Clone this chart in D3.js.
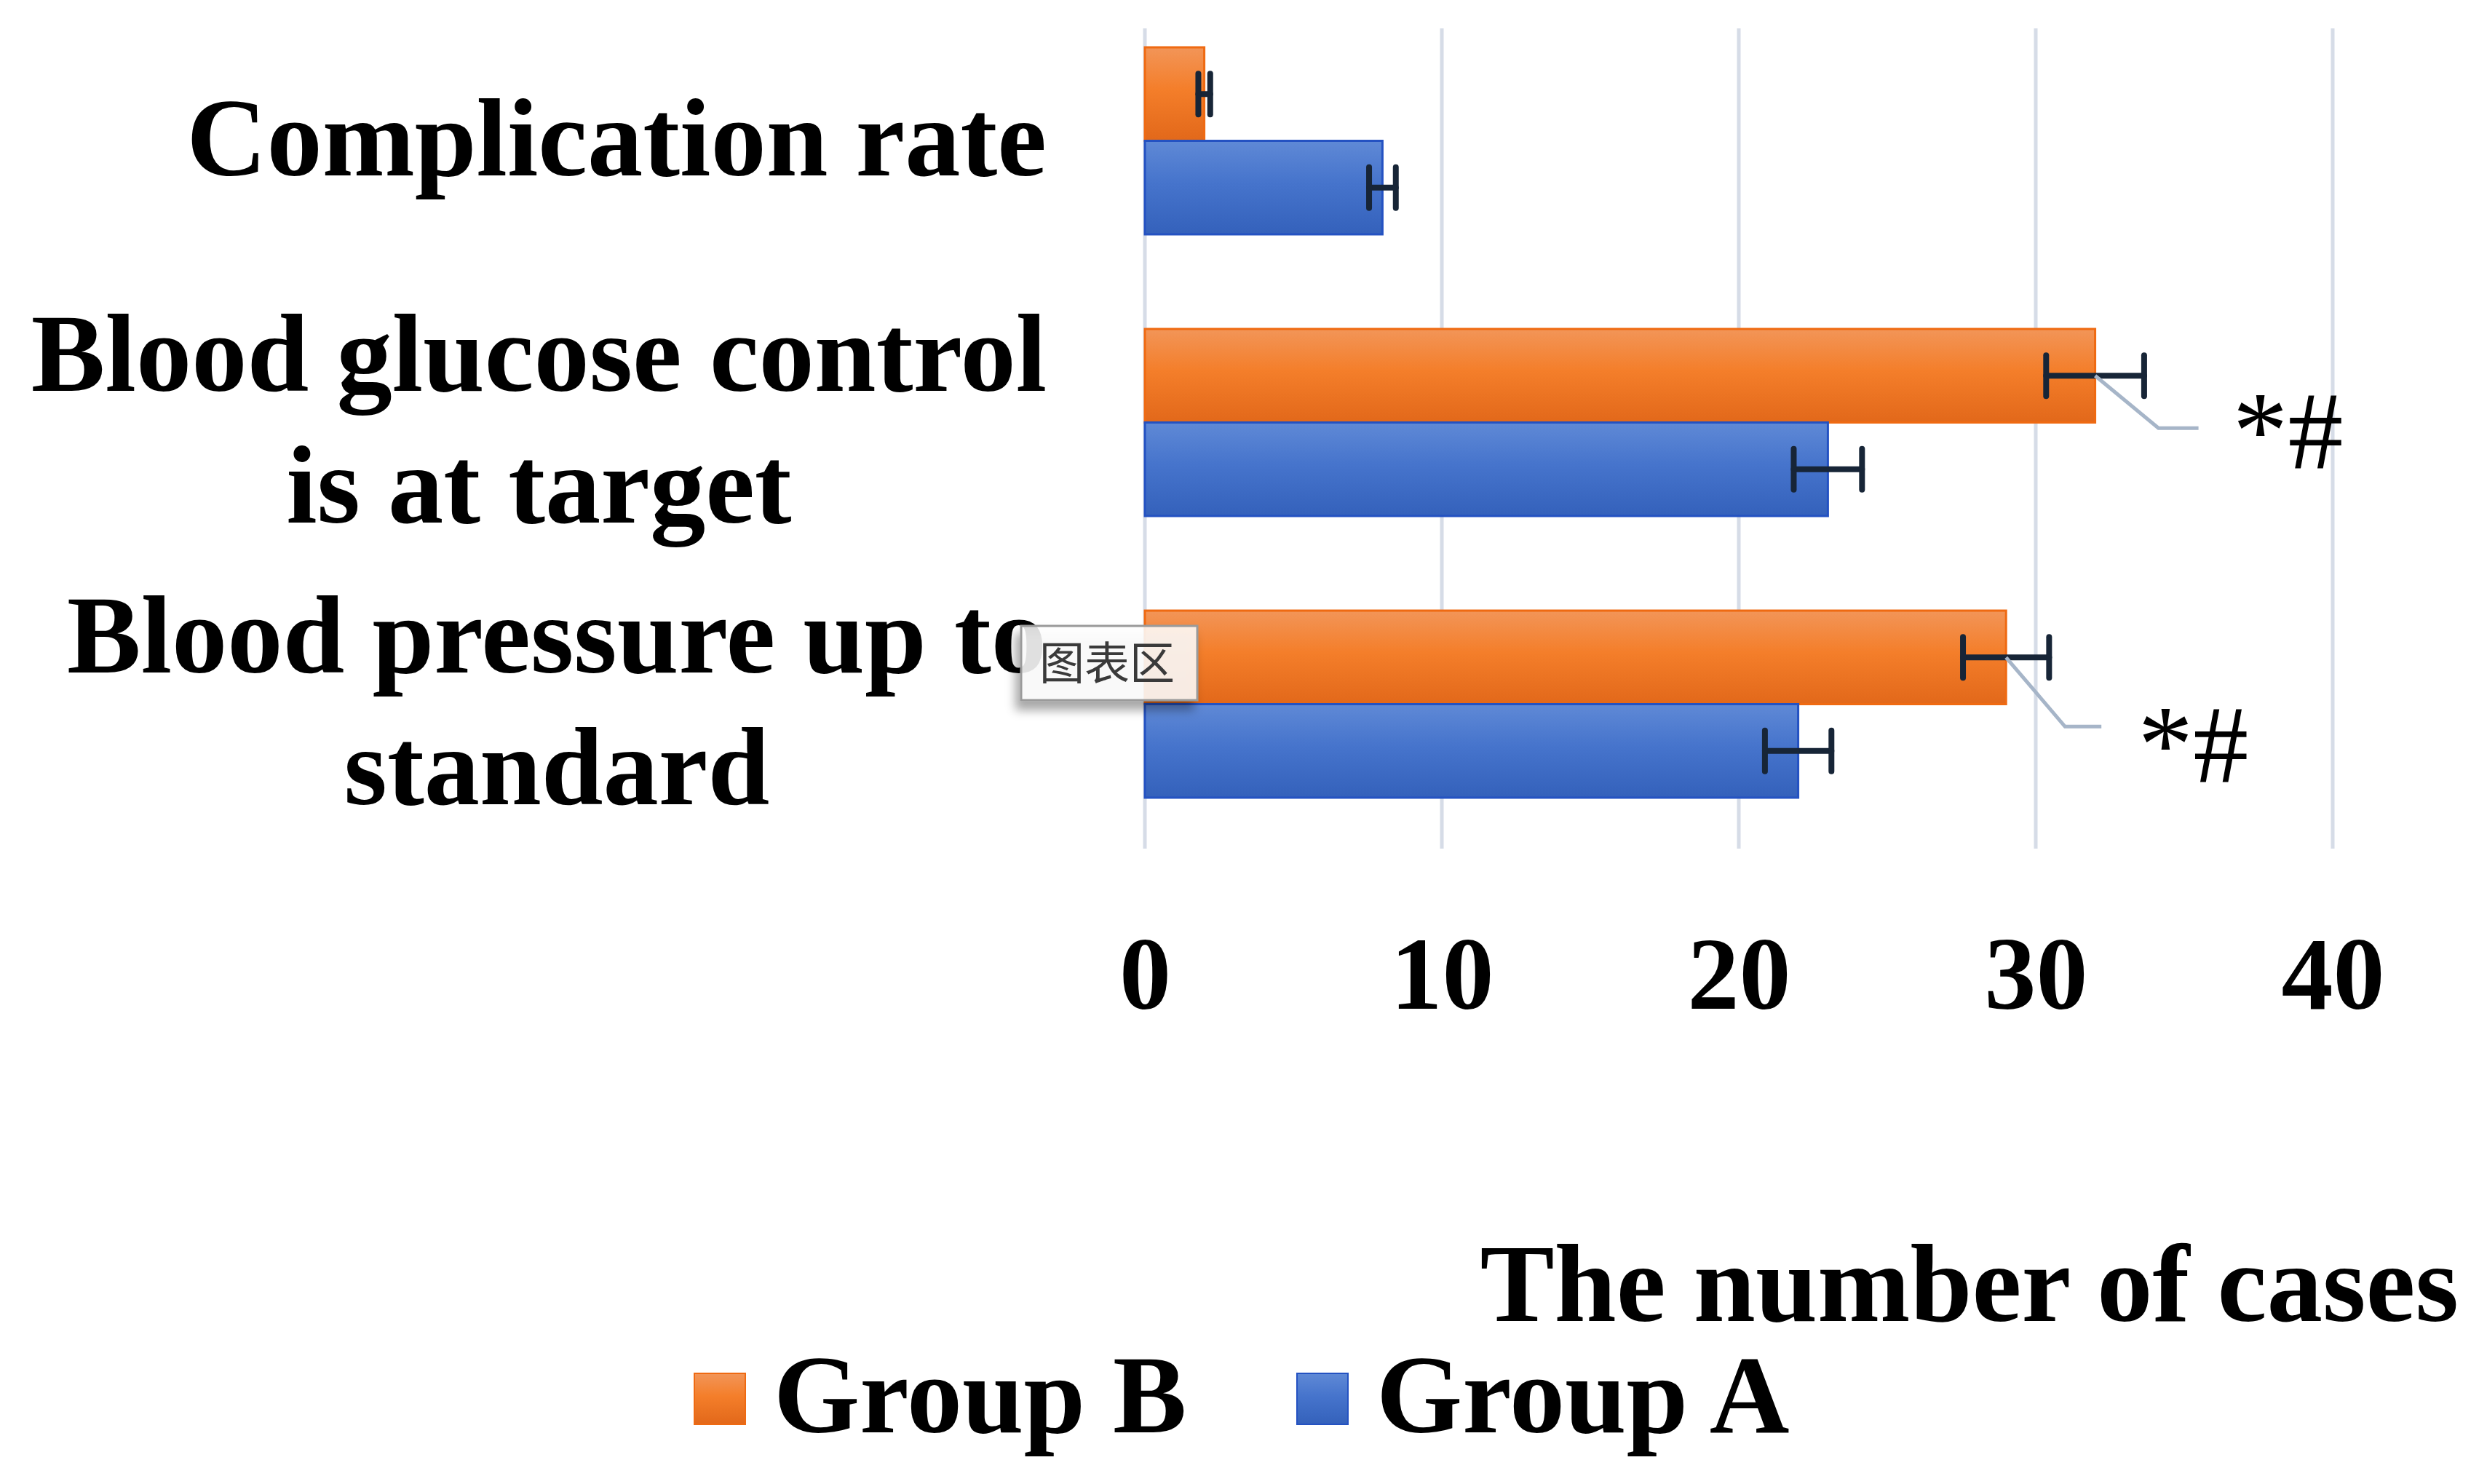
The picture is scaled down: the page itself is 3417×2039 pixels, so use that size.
<!DOCTYPE html>
<html>
<head>
<meta charset="utf-8">
<script src="https://cdn.jsdelivr.net/npm/d3@7"></script>
<style>
  html, body { margin: 0; padding: 0; background: #ffffff; }
  svg { display: block; }
</style>
</head>
<body>
<svg id="chart" width="3417" height="2039"></svg>
<script>
// ---------------- data ----------------
const categories = [
  ["Complication rate"],
  ["Blood glucose control", "is at target"],
  ["Blood pressure up to", "standard"]
];
const categoryKeys = ["Complication rate", "Blood glucose control is at target", "Blood pressure up to standard"];
const seriesNames = ["Group B", "Group A"];
const groupB = [2, 32, 29];
const groupA = [8, 23, 22];
const errB = [0.2, 1.65, 1.45];
const errA = [0.45, 1.15, 1.12];
const xTicks = [0, 10, 20, 30, 40];
const xTitle = "The number of cases";
const annotations = ["", "*#", "*#"];   // marker next to Group B bars
const tooltipText = "图表区";

// ---------------- layout ----------------
const W = 3417, H = 2039;
const svg = d3.select("#chart");
const serif = "'Liberation Serif', 'Times New Roman', serif";

const x = d3.scaleLinear().domain([0, 40]).range([1573, 3205]);
const y = d3.scaleBand().domain(categoryKeys).range([0, 1161]).padding(0);
const gridTop = 39, gridBottom = 1166;
const barH = y.bandwidth() * 0.332;
const barOff = (y.bandwidth() - 2 * barH) / 2;

const colors = {
  "Group B": { top: "#f29558", mid: "#f47e2a", bot: "#e2681a", stroke: "#ef6a12" },
  "Group A": { top: "#5f89d6", mid: "#4674cc", bot: "#3461bb", stroke: "#2452c2" }
};

const defs = svg.append("defs");
seriesNames.forEach((s, i) => {
  const g = defs.append("linearGradient").attr("id", "grad" + i)
    .attr("x1", 0).attr("y1", 0).attr("x2", 0).attr("y2", 1);
  g.append("stop").attr("offset", "0%").attr("stop-color", colors[s].top);
  g.append("stop").attr("offset", "45%").attr("stop-color", colors[s].mid);
  g.append("stop").attr("offset", "100%").attr("stop-color", colors[s].bot);
});
const shadow = defs.append("filter").attr("id", "shadow")
  .attr("x", "-20%").attr("y", "-20%").attr("width", "140%").attr("height", "160%");
shadow.append("feDropShadow").attr("dx", -6).attr("dy", 12).attr("stdDeviation", 7)
  .attr("flood-color", "#000").attr("flood-opacity", 0.4);

// ---------------- gridlines ----------------
svg.append("g").selectAll("line").data(xTicks).join("line")
  .attr("x1", d => x(d)).attr("x2", d => x(d))
  .attr("y1", gridTop).attr("y2", gridBottom)
  .attr("stroke", "#d6dce7").attr("stroke-width", 5);

// ---------------- bars ----------------
const series = [
  { name: "Group B", values: groupB, err: errB, idx: 0 },
  { name: "Group A", values: groupA, err: errA, idx: 1 }
];
const barsG = svg.append("g");
series.forEach(s => {
  barsG.append("g").selectAll("rect").data(categoryKeys).join("rect")
    .attr("x", x(0))
    .attr("y", c => y(c) + barOff + s.idx * barH)
    .attr("width", (c, i) => x(s.values[i]) - x(0))
    .attr("height", barH)
    .attr("fill", "url(#grad" + s.idx + ")")
    .attr("stroke", colors[s.name].stroke)
    .attr("stroke-width", 3);
});

// ---------------- error bars ----------------
const capH = 56;
const errG = svg.append("g").attr("stroke", "#172537").attr("stroke-width", 8).attr("fill", "none")
  .attr("stroke-linecap", "round");
series.forEach(s => {
  categoryKeys.forEach((c, i) => {
    const cy = y(c) + barOff + s.idx * barH + barH / 2;
    const lo = x(s.values[i] - s.err[i]), hi = x(s.values[i] + s.err[i]);
    errG.append("line").attr("x1", lo).attr("x2", hi).attr("y1", cy).attr("y2", cy);
    errG.append("line").attr("x1", lo).attr("x2", lo).attr("y1", cy - capH / 2).attr("y2", cy + capH / 2);
    errG.append("line").attr("x1", hi).attr("x2", hi).attr("y1", cy - capH / 2).attr("y2", cy + capH / 2);
  });
});

// ---------------- annotations (*#) with leader lines ----------------
const annotOffsets = [null, { bx: 87, by: 72, ex: 142, tx: 189, ty: 127 }, { bx: 81, by: 95, ex: 131, tx: 181, ty: 171 }];
const annG = svg.append("g");
annotations.forEach((a, i) => {
  if (!a) return;
  const o = annotOffsets[i];
  const x0 = x(groupB[i]);
  const y0 = y(categoryKeys[i]) + barOff + barH / 2;
  annG.append("path")
    .attr("d", `M${x0},${y0} L${x0 + o.bx},${y0 + o.by} L${x0 + o.ex},${y0 + o.by}`)
    .attr("fill", "none").attr("stroke", "#a6b5c8").attr("stroke-width", 5);
  annG.append("text")
    .attr("x", x0 + o.tx).attr("y", y0 + o.ty)
    .attr("font-family", serif).attr("font-size", 152).attr("fill", "#000")
    .text(a);
});

// ---------------- x-axis tick labels ----------------
const xAxis = d3.axisBottom(x).tickValues(xTicks).tickSize(0).tickPadding(0).tickFormat(d3.format("d"));
const axG = svg.append("g").attr("transform", "translate(0,1386)").call(xAxis);
axG.select(".domain").remove();
axG.selectAll("text")
  .attr("dy", 0).attr("y", 0)
  .attr("font-family", serif).attr("font-weight", "bold").attr("font-size", 142).attr("fill", "#000");

// ---------------- category labels ----------------
const catFont = 152.5, labelRight = 1438, lineGap = 181;
const catG = svg.append("g").attr("font-family", serif).attr("font-weight", "bold")
  .attr("font-size", catFont).attr("fill", "#000");
categories.forEach((lines, i) => {
  const cy = y(categoryKeys[i]) + y.bandwidth() / 2;
  const g = catG.append("g");
  const texts = lines.map((ln, j) => g.append("text")
    .attr("y", cy + 47 + (j - (lines.length - 1) / 2) * lineGap)
    .attr("text-anchor", "middle").text(ln));
  const maxW = d3.max(texts, t => t.node().getComputedTextLength());
  texts.forEach(t => t.attr("x", labelRight - maxW / 2));
});

// ---------------- axis title ----------------
svg.append("text").attr("x", 3378).attr("y", 1815).attr("text-anchor", "end")
  .attr("font-family", serif).attr("font-weight", "bold").attr("font-size", 153).attr("fill", "#000")
  .text(xTitle);

// ---------------- legend ----------------
const legendX = [954, 1782];
const legG = svg.append("g");
series.forEach((s, i) => {
  legG.append("rect").attr("x", legendX[i]).attr("y", 1887).attr("width", 70).attr("height", 70)
    .attr("fill", "url(#grad" + s.idx + ")").attr("stroke", colors[s.name].stroke).attr("stroke-width", 2);
  legG.append("text").attr("x", legendX[i] + 109).attr("y", 1968)
    .attr("font-family", serif).attr("font-weight", "bold").attr("font-size", 152).attr("fill", "#000")
    .text(s.name);
});

// ---------------- tooltip box "图表区" ----------------
const tip = svg.append("g");
tip.append("rect").attr("x", 1403).attr("y", 860).attr("width", 242).attr("height", 102)
  .attr("fill", "#ffffff").attr("fill-opacity", 0.85)
  .attr("stroke", "#9a9a9a").attr("stroke-width", 3)
  .attr("filter", "url(#shadow)");
tip.append("text").attr("x", 1428).attr("y", 934)
  .attr("font-family", "'Noto Sans CJK SC', sans-serif").attr("font-size", 62).attr("fill", "#3a3a3a")
  .text(tooltipText);
</script>
</body>
</html>
